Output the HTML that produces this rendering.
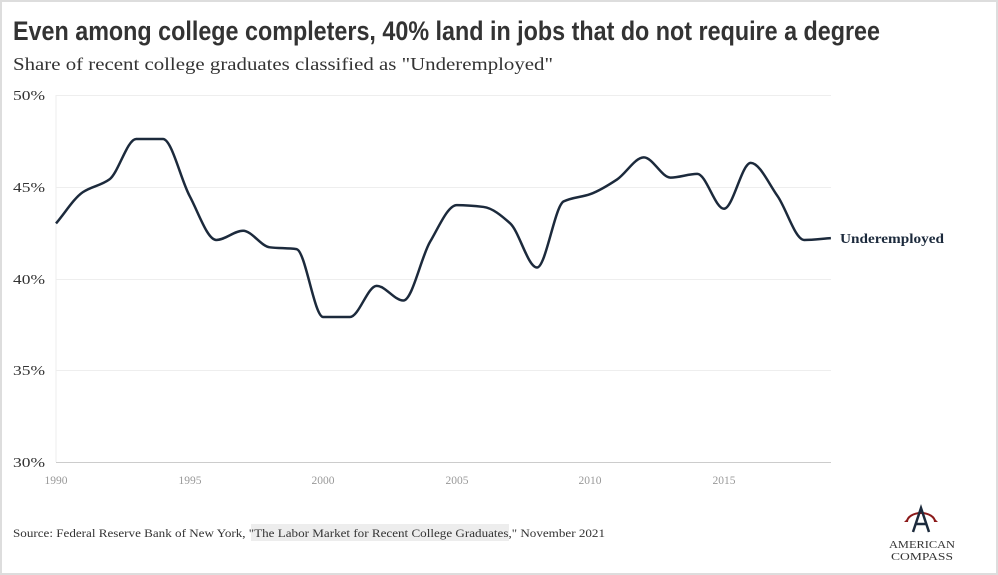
<!DOCTYPE html>
<html><head><meta charset="utf-8"><style>
html,body{margin:0;padding:0;background:#fff}
body{width:998px;height:575px;overflow:hidden}
</style></head><body>
<svg id="s" width="998" height="575" xmlns="http://www.w3.org/2000/svg" style="display:block">
<rect x="1" y="1" width="996" height="573" fill="#fff" stroke="#ddd" stroke-width="2"/>
<text x="13" y="40" font-family="'Liberation Sans Narrow','Liberation Sans',sans-serif" font-weight="bold" font-size="27" fill="#333" textLength="867" lengthAdjust="spacingAndGlyphs">Even among college completers, 40% land in jobs that do not require a degree</text>
<text x="13" y="70" font-family="'Liberation Serif',serif" font-size="18" fill="#333" textLength="540" lengthAdjust="spacingAndGlyphs">Share of recent college graduates classified as "Underemployed"</text>
<g stroke="#eee" stroke-width="1">
<line x1="56" x2="831" y1="95.5" y2="95.5"/><line x1="56" x2="831" y1="187.5" y2="187.5"/>
<line x1="56" x2="831" y1="279.5" y2="279.5"/><line x1="56" x2="831" y1="370.5" y2="370.5"/>
<line x1="56" x2="56" y1="95" y2="462"/>
</g>
<line x1="56" x2="831" y1="462.5" y2="462.5" stroke="#ccc"/>
<g font-family="'Liberation Serif',serif" font-size="14" fill="#333">
<text x="13" y="100" textLength="32" lengthAdjust="spacingAndGlyphs">50%</text><text x="13" y="192" textLength="32" lengthAdjust="spacingAndGlyphs">45%</text><text x="13" y="284" textLength="32" lengthAdjust="spacingAndGlyphs">40%</text><text x="13" y="375" textLength="32" lengthAdjust="spacingAndGlyphs">35%</text><text x="13" y="467" textLength="32" lengthAdjust="spacingAndGlyphs">30%</text>
</g>
<g font-family="'Liberation Serif',serif" font-size="11.5" fill="#999" text-anchor="middle">
<text x="56" y="484">1990</text><text x="190" y="484">1995</text><text x="323" y="484">2000</text><text x="457" y="484">2005</text><text x="590" y="484">2010</text><text x="724" y="484">2015</text>
</g>
<path id="ln" fill="none" stroke="#1c2a3c" stroke-width="2.5"/>
<text x="840" y="243" font-family="'Liberation Serif',serif" font-weight="bold" font-size="14" fill="#1c2a3c" textLength="104" lengthAdjust="spacingAndGlyphs">Underemployed</text>
<rect x="251" y="524" width="258" height="17" fill="#000" opacity="0.07"/>
<text x="13" y="537" font-family="'Liberation Serif',serif" font-size="12" fill="#333" textLength="592" lengthAdjust="spacingAndGlyphs">Source: Federal Reserve Bank of New York, "The Labor Market for Recent College Graduates," November 2021</text>
<g transform="translate(921,520)">
<path d="M-14,2 A14,9 0 0 1 14,2" fill="none" stroke="#8b1a1a" stroke-width="2"/>
<path d="M-14,2 l-3,0 l3,-3 z M14,2 l3,0 l-3,-3z" fill="#8b1a1a"/>
<path d="M-8,12 L0,-12 L8,12 M-5,4 L5,4" fill="none" stroke="#1c2a3c" stroke-width="2.5"/>
</g>
<g font-family="'Liberation Serif',serif" font-size="11" fill="#333" text-anchor="middle">
<text x="922" y="548" textLength="66" lengthAdjust="spacingAndGlyphs">AMERICAN</text>
<text x="922" y="560" textLength="62" lengthAdjust="spacingAndGlyphs">COMPASS</text>
</g>
</svg>
<script>
var d=[43.0,44.7,45.4,47.6,47.6,44.5,42.1,42.6,41.7,41.6,37.9,37.9,39.6,38.8,42.0,44.0,43.9,43.0,40.6,44.2,44.6,45.4,46.6,45.5,45.7,43.8,46.3,44.5,42.1,42.2];
var p=d.map(function(v,i){return [56+i*26.72,462-(v-30)*18.35];});
var n=p.length,m=[],dx=[],sl=[];
for(var i=0;i<n-1;i++){dx[i]=p[i+1][0]-p[i][0];sl[i]=(p[i+1][1]-p[i][1])/dx[i];}
m[0]=sl[0];m[n-1]=sl[n-2];
for(i=1;i<n-1;i++){if(sl[i-1]*sl[i]<=0)m[i]=0;else m[i]=2/(1/sl[i-1]+1/sl[i]);}
var s="M"+p[0][0]+","+p[0][1];
for(i=0;i<n-1;i++){var h=dx[i]/3;s+=" C"+(p[i][0]+h)+","+(p[i][1]+m[i]*h)+" "+(p[i+1][0]-h)+","+(p[i+1][1]-m[i+1]*h)+" "+p[i+1][0]+","+p[i+1][1];}
document.getElementById("ln").setAttribute("d",s);
</script>
</body></html>
